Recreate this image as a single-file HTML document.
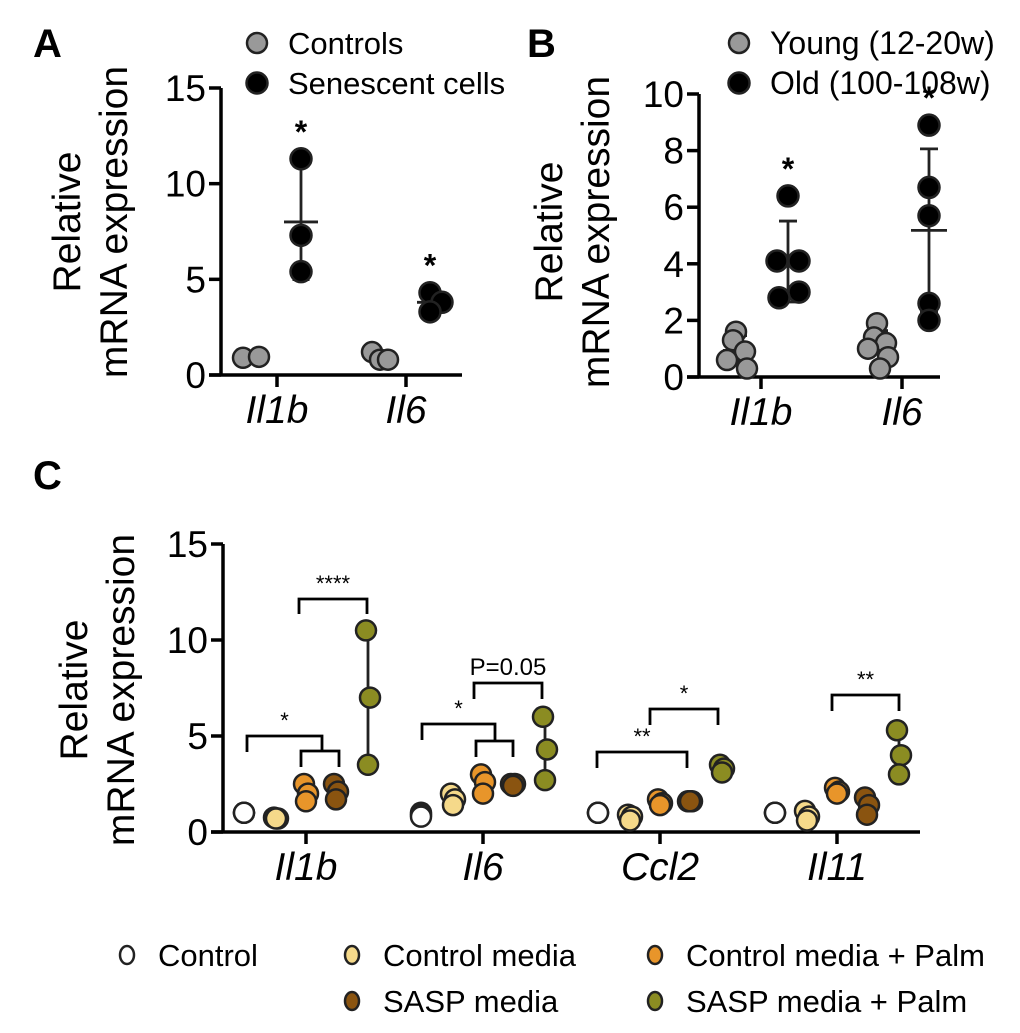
<!DOCTYPE html>
<html><head><meta charset="utf-8">
<style>
html,body{margin:0;padding:0;background:#fff;}
svg{display:block;font-family:"Liberation Sans",Arial,sans-serif;}
</style></head>
<body>
<svg id="fig" width="1020" height="1033" viewBox="0 0 1020 1033">
</svg>
<script>
// ---------- DATA ----------
const aCategories = ["Il1b","Il6"];
const aControls = [[0.9,0.95],[1.2,0.8,0.8]];
const aSenescent = [[11.3,7.3,5.4],[4.3,3.8,3.3]];
const aTicks = [0,5,10,15];

const bCategories = ["Il1b","Il6"];
const bYoung = [[1.6,1.3,0.9,0.6,0.3],[1.9,1.4,1.2,1.0,0.7,0.3]];
const bOld = [[6.4,4.1,4.1,3.0,2.8],[8.9,6.7,5.7,2.6,2.0]];
const bTicks = [0,2,4,6,8,10];

const cCategories = ["Il1b","Il6","Ccl2","Il11"];
const cControl = [[1.0,1.0,1.0],[1.0,0.9,0.8],[1.0,1.0,1.0],[1.0,1.0,1.0]];
const cControlMedia = [[0.75,0.7,0.7],[2.0,1.7,1.4],[0.9,0.8,0.6],[1.1,0.8,0.6]];
const cPalm = [[2.5,2.0,1.6],[3.0,2.6,2.0],[1.7,1.5,1.4],[2.3,2.1,2.0]];
const cSasp = [[2.5,2.1,1.7],[2.5,2.5,2.4],[1.6,1.6,1.6],[1.8,1.4,0.9]];
const cSaspPalm = [[10.5,7.0,3.5],[6.0,4.3,2.7],[3.5,3.3,3.1],[5.3,4.0,3.0]];
const cTicks = [0,5,10,15];

const NS="http://www.w3.org/2000/svg";
const svg=document.getElementById('fig');
function el(tag,attrs,parent,text){const e=document.createElementNS(NS,tag);for(const k in attrs)e.setAttribute(k,attrs[k]);if(text!==undefined)e.textContent=text;(parent||svg).appendChild(e);return e;}
function mean(a){return a.reduce((s,v)=>s+v,0)/a.length;}
function sd(a){const m=mean(a);return Math.sqrt(a.reduce((s,v)=>s+(v-m)*(v-m),0)/(a.length-1));}

function axes(g,x0,x1,yScale,ticks,catX,cats,name){
  const yTop=yScale(ticks[ticks.length-1]), y0=yScale(0);
  const ya=el('line',{x1:x0,y1:yTop,x2:x0,y2:y0,stroke:'#000','stroke-width':3.5},g);
  
  
  const xa=el('line',{x1:x0-12,y1:y0,x2:x1,y2:y0,stroke:'#000','stroke-width':3.5},g);
  
  
  ticks.forEach(t=>{
    el('line',{x1:x0-12,y1:yScale(t),x2:x0,y2:yScale(t),stroke:'#000','stroke-width':3.5},g);
    const tl=el('text',{x:x0-15,y:yScale(t)+13,'text-anchor':'end','font-size':37},g,String(t));
    
    
  });
  cats.forEach((c,i)=>{
    el('line',{x1:catX(i),y1:y0,x2:catX(i),y2:y0+12,stroke:'#000','stroke-width':3.5},g);
    const cl=el('text',{x:catX(i),y:y0+48,'text-anchor':'middle','font-size':39,'font-style':'italic'},g,c);
    
    
  });
}
function dots(g,x,vals,yScale,fill,r,name,jit){
  vals.forEach((v,j)=>{
    const dx=jit?jit[j%jit.length]:0;
    const c=el('circle',{cx:x+dx,cy:yScale(v),r:r,fill:fill,stroke:'#222','stroke-width':2.5},g);
    
    
  });
}
function errbar(g,x,vals,yScale,w,name){
  const m=mean(vals),s=sd(vals);
  const e=el('g',{stroke:'#222','stroke-width':2.8},g);
  
  
  el('line',{x1:x,y1:yScale(m+s),x2:x,y2:yScale(m-s)},e);
  el('line',{x1:x-w,y1:yScale(m),x2:x+w,y2:yScale(m)},e);
  el('line',{x1:x-w/2,y1:yScale(m+s),x2:x+w/2,y2:yScale(m+s)},e);
  el('line',{x1:x-w/2,y1:yScale(m-s),x2:x+w/2,y2:yScale(m-s)},e);
}
function ylab(g,cx,cy,name){
  const t=el('text',{transform:`translate(${cx},${cy}) rotate(-90)`,'text-anchor':'middle','font-size':39},g);
  
  
  el('tspan',{x:0,y:0},t,'Relative');
  el('tspan',{x:0,y:47},t,'mRNA expression');
}
function letter(x,y,s){const t=el('text',{x:x,y:y,'font-size':40,'font-weight':'bold'},svg,s);}
function legendEntry(g,cx,cy,fill,label,r,fs,name,rx,ry){
  const lg=el('g',{},g);
  
  
  el('ellipse',{cx:cx,cy:cy,rx:rx||r,ry:ry||r,fill:fill,stroke:'#222','stroke-width':2.5},lg);
  el('text',{x:cx+31,y:cy+11,'font-size':fs},lg,label);
}

// ---------- PANEL A ----------
const gA=el('g',{});
const yA=v=>375-v*(287/15);
const xA=i=>277+i*129;
letter(33,57,'A');
ylab(gA,80,222,'panel-a-y-axis-title');
axes(gA,221,462,yA,aTicks,xA,aCategories,'panel-a');
aCategories.forEach((c,i)=>{
  dots(gA,xA(i)-26,aControls[i],yA,'#999',10,'control-point',i==0?[-8,8]:[-8,0,8]);
  errbar(gA,xA(i)+24+(i?4:0),aSenescent[i],yA,17,'senescent-error-bar');
  dots(gA,xA(i)+24+(i?4:0),aSenescent[i],yA,'#000',10.5,'senescent-point',i==0?[0]:[-4,8,-4]);
  const s=el('text',{x:xA(i)+24,y:yA(Math.max(...aSenescent[i]))-16,'text-anchor':'middle','font-size':32,'font-weight':'bold'},gA,'*');
  
});
legendEntry(gA,257,43,'#999','Controls',10,31,'legend-controls');
legendEntry(gA,257,83,'#000','Senescent cells',10.5,31,'legend-senescent');

// ---------- PANEL B ----------
const gB=el('g',{});
const yB=v=>377-v*(283/10);
const xB=i=>761+i*141;
letter(527,57,'B');
ylab(gB,562,232,'panel-b-y-axis-title');
axes(gB,699,940,yB,bTicks,xB,bCategories,'panel-b');
bCategories.forEach((c,i)=>{
  errbar(gB,xB(i)-22,bYoung[i],yB,16,'young-error-bar');
  dots(gB,xB(i)-22,bYoung[i],yB,'#999',10,'young-point',[-3,-6,6,-12,8,0]);
  const ox=xB(i)+27;
  errbar(gB,ox,bOld[i],yB,18,'old-error-bar');
  dots(gB,ox,bOld[i],yB,'#000',10.5,'old-point',i==0?[0,-11,11,11,-9]:[0,0,0,0,0]);
  const s=el('text',{x:ox,y:yB(Math.max(...bOld[i]))-16,'text-anchor':'middle','font-size':32,'font-weight':'bold'},gB,'*');
  
});
legendEntry(gB,739,43,'#999','Young (12-20w)',10,32,'legend-young');
legendEntry(gB,739,83,'#000','Old (100-108w)',10.5,32,'legend-old');

// ---------- PANEL C ----------
const gC=el('g',{});
const yC=v=>832-v*(288/15);
const xC=i=>306+i*177;
letter(33,489,'C');
ylab(gC,87,690,'panel-c-y-axis-title');
axes(gC,223,920,yC,cTicks,xC,cCategories,'panel-c');
const cSeries=[cControl,cControlMedia,cPalm,cSasp,cSaspPalm];
const cColors=['#ffffff','#f5d98a','#e8952a','#8a5410','#8b8c22'];
const cNames=['control-point','control-media-point','control-media-palm-point','sasp-media-point','sasp-media-palm-point'];
const cOff=[-62,-30,0,30,62];
cCategories.forEach((c,i)=>{
  cSeries.forEach((ser,k)=>{
    const x=xC(i)+cOff[k];
    if(k==4) errbar(gC,x,ser[i],yC,8,'sasp-palm-error-bar');
    dots(gC,x,ser[i],yC,cColors[k],10,cNames[k],k==0?[0]:[-2,2,0]);
  });
});
function bracket(x1,x2,y,leg,label,fs,name){
  const g=el('g',{},gC);
  
  
  el('polyline',{points:`${x1},${y+leg} ${x1},${y} ${x2},${y} ${x2},${y+leg}`,fill:'none',stroke:'#000','stroke-width':2.8},g);
  if(label) el('text',{x:(x1+x2)/2,y:y-8,'text-anchor':'middle','font-size':fs},g,label);
}
bracket(247,322,736,16,'*',22,'il1b-bracket-star');
bracket(301,339,751,16,'',22,'il1b-inner-bracket');
bracket(299,367,599,15,'****',22,'il1b-bracket-4star');
bracket(422,495,724,16,'*',22,'il6-bracket-star');
bracket(476,513,741,16,'',22,'il6-inner-bracket');
bracket(474,542,683,16,'P=0.05',24,'il6-bracket-p');
bracket(597,687,752,16,'**',22,'ccl2-bracket-2star');
bracket(650,718,709,16,'*',22,'ccl2-bracket-star');
bracket(832,899,695,16,'**',22,'il11-bracket-2star');

// ---------- BOTTOM LEGEND ----------
const gL=el('g',{});
legendEntry(gL,127,955,'#ffffff','Control',8,31,'legend-control',7,9);
legendEntry(gL,352,955,'#f5d98a','Control media',8,31,'legend-control-media',7,9);
legendEntry(gL,655,955,'#e8952a','Control media + Palm',8,31,'legend-control-media-palm',7,9);
legendEntry(gL,352,1001,'#8a5410','SASP media',8,31,'legend-sasp-media',7,9);
legendEntry(gL,655,1001,'#8b8c22','SASP media + Palm',8,31,'legend-sasp-media-palm',7,9);
</script>
</body></html>
